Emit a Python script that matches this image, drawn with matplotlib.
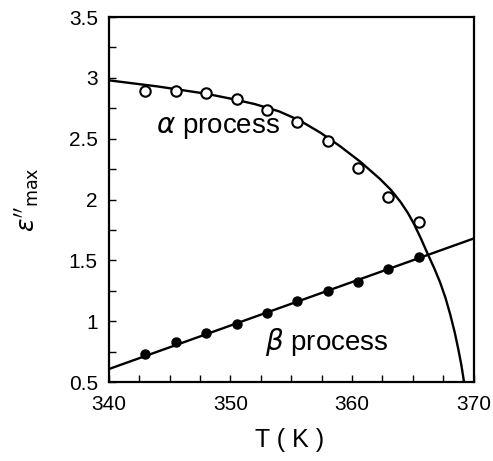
import matplotlib
matplotlib.use("Agg")
import matplotlib.pyplot as plt
from matplotlib.ticker import MultipleLocator

plt.rcParams['font.family'] = ['Liberation Sans', 'DejaVu Sans']
plt.rcParams['mathtext.fontset'] = 'dejavusans'

# measured data
T_pts = [343.0, 345.5, 348.0, 350.5, 353.0, 355.5, 358.0, 360.5, 363.0, 365.5]
alpha_pts = [2.894, 2.894, 2.88, 2.83, 2.74, 2.64, 2.48, 2.26, 2.02, 1.82]
beta_pts = [0.731, 0.83, 0.90, 0.977, 1.07, 1.164, 1.246, 1.32, 1.43, 1.53]

# fitted curves
alpha_fit_T = [340.0, 342.0, 344.0, 346.0, 348.0, 350.0, 352.0, 354.0, 355.7, 357.4,
               359.0, 360.7, 362.3, 363.2, 364.0, 364.6, 365.1, 365.65, 366.2,
               366.75, 367.25, 367.7, 368.1, 368.45, 368.75, 369.0, 369.22]
alpha_fit_y = [2.98, 2.955, 2.93, 2.90, 2.87, 2.83, 2.785, 2.725, 2.65, 2.55,
               2.44, 2.31, 2.17, 2.08, 1.98, 1.89, 1.80, 1.685, 1.56,
               1.44, 1.32, 1.19, 1.05, 0.91, 0.77, 0.64, 0.50]
beta_fit_T = [340.0, 370.0]
beta_fit_y = [0.608, 1.68]

fig = plt.figure(figsize=(4.93, 4.61), dpi=100)
ax = fig.add_axes([0.221, 0.171, 0.7395, 0.792])

ax.plot(alpha_fit_T, alpha_fit_y, color='black', lw=1.7, zorder=2,
        solid_joinstyle='round')
ax.plot(beta_fit_T, beta_fit_y, color='black', lw=1.7, zorder=2)
ax.plot(T_pts, alpha_pts, 'o', mfc='white', mec='black', mew=1.5, ms=7.5, zorder=3)
ax.plot(T_pts, beta_pts, 'o', mfc='black', mec='black', ms=6.5, zorder=3)

ax.set_xlim(340, 370)
ax.set_ylim(0.5, 3.5)
ax.xaxis.set_major_locator(MultipleLocator(10))
ax.xaxis.set_minor_locator(MultipleLocator(2.5))
ax.yaxis.set_minor_locator(MultipleLocator(0.25))
ax.set_yticks([0.5, 1, 1.5, 2, 2.5, 3, 3.5])
ax.set_yticklabels(['0.5', '1', '1.5', '2', '2.5', '3', '3.5'])
ax.tick_params(which='both', direction='in', top=False, right=False,
               length=5, width=1, labelsize=15)
ax.tick_params(axis='x', pad=9)
ax.tick_params(axis='y', pad=8)
for s in ax.spines.values():
    s.set_linewidth(1.6)

ax.text(349.0, 2.59, r'$\alpha$ process', fontsize=20, ha='center', va='center')
ax.text(357.9, 0.83, r'$\beta$ process', fontsize=20, ha='center', va='center')

fig.text(290 / 493, 1 - 440 / 461, 'T ( K )', fontsize=18, ha='center', va='center')
fig.text(28 / 493, 1 - 200 / 461, r"$\epsilon''_{\rm max}$", fontsize=18,
         ha='center', va='center', rotation=90)

fig.savefig('out.png', dpi=100)
